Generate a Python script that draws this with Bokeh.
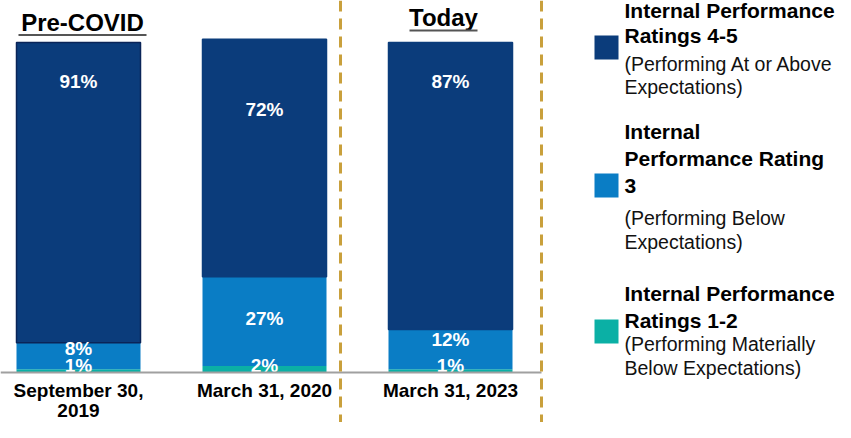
import numpy as np
from bokeh.plotting import figure
from bokeh.models import Range1d, Span
from bokeh.core.properties import value
from bokeh.embed import file_html
from bokeh.resources import INLINE

# ---------------- data ----------------
periods = ["September 30,\n2019", "March 31, 2020", "March 31, 2023"]
period_headers = ["Pre-COVID", "", "Today"]
ratings_4_5 = [91, 72, 87]
rating_3 = [8, 27, 12]
ratings_1_2 = [1, 2, 1]

legend_titles = ["Internal Performance\nRatings 4-5",
                 "Internal\nPerformance Rating\n3",
                 "Internal Performance\nRatings 1-2"]
legend_notes = ["(Performing At or Above\nExpectations)",
                "(Performing Below\nExpectations)",
                "(Performing Materially\nBelow Expectations)"]

# ---------------- style ----------------
NAVY = "#0B3C7B"
MID = "#0A7DC5"
TEAL = "#0BB0A5"
GOLD = "#C9A03C"
GRAY = "#A0A0A0"
FB = "Liberation Sans"

W, H = 835, 422
PX = 186.0          # pixels per category step
PY = 3.3            # pixels per percent
X0 = -78 / PX
Y_BASE = 372        # pixel y of the zero line
KB = 0.4            # baseline correction (em)


def X(px):
    return X0 + px / PX


def Y(py):
    return (Y_BASE - py) / PY


def TB(py, fs):
    """data y for a text whose visual baseline should sit at pixel py"""
    return Y(py - KB * fs)


p = figure(width=W, height=H, output_backend="svg", toolbar_location=None,
           x_range=Range1d(X0, X0 + W / PX),
           y_range=Range1d(Y(H), Y(0)),
           x_axis_type=None, y_axis_type=None, min_border=0)
p.grid.visible = False
p.outline_line_color = None

xs = np.arange(len(periods))
s12 = np.array(ratings_1_2, dtype=float)
s3 = np.array(rating_3, dtype=float)
s45 = np.array(ratings_4_5, dtype=float)
b45 = s12 + s3
top45 = b45 + s45

BW = 124 / PX
p.vbar(x=xs, bottom=0, top=s12, width=BW, fill_color=TEAL, line_color=None)
p.vbar(x=xs, bottom=s12, top=b45, width=BW, fill_color=MID, line_color=None)
outline = [NAVY] * len(xs)
outline[0] = "#0A2458"
p.vbar(x=xs, bottom=b45, top=top45, width=BW, fill_color=NAVY,
       line_color=outline, line_width=1.5)

# value labels: visual baselines in pixels
FS_V = 19
lab_45 = [88.3, 117, 89]
lab_3 = [355.7, 325.7, 346.7]
lab_12 = [373, 373, 373]
lx = list(xs) * 3
ly = [TB(v, FS_V) for v in lab_45 + lab_3 + lab_12]
lt = [f"{v}%" for v in ratings_4_5 + rating_3 + ratings_1_2]
p.text(x=lx, y=ly, text=lt, text_color="white", text_align="center",
       text_baseline="alphabetic", text_font=value(FB),
       text_font_style="bold", text_font_size=f"{FS_V}px")

# zero line
p.segment(x0=[X(0)], y0=[0], x1=[X(541)], y1=[0], line_color=GRAY, line_width=2)

# dashed separators
for loc in (X(340), X(541)):
    p.add_layout(Span(location=loc, dimension="height", line_color=GOLD,
                      line_width=3, line_dash="11 7"))

# category labels
FS_C = 19
cx, cy, ct = [], [], []
for i, lab in enumerate(periods):
    for j, line in enumerate(lab.split("\n")):
        cx.append(xs[i])
        cy.append(TB(398 + 20 * j, FS_C))
        ct.append(line)
p.text(x=cx, y=cy, text=ct, text_color="black", text_align="center",
       text_baseline="alphabetic", text_font=value(FB),
       text_font_style="bold", text_font_size=f"{FS_C}px")

# headers with underline
FS_H = 24
hdr_pos = {0: (82, 31.5, 18, 146, 34.5), 2: (443, 26.5, 409, 477, 30)}
for i, (hx, hy, u0, u1, uy) in hdr_pos.items():
    p.text(x=[X(hx)], y=[TB(hy, FS_H)], text=[period_headers[i]],
           text_color="black", text_align="center", text_baseline="alphabetic",
           text_font=value(FB), text_font_style="bold",
           text_font_size=f"{FS_H}px")
    p.segment(x0=[X(u0)], y0=[Y(uy)], x1=[X(u1)], y1=[Y(uy)],
              line_color="#555555", line_width=2)

# legend
colors = [NAVY, MID, TEAL]
sq_top = [35, 173, 319]
title_base = [[18.5, 43.5], [139.3, 166.7, 194], [301.7, 328.3]]
note_base = [[71, 94.3], [225, 249], [351.7, 375]]
TX = 624
FS_LT, FS_LN = 21, 19.5
for k in range(3):
    p.quad(left=[X(594)], right=[X(618)], top=[Y(sq_top[k])],
           bottom=[Y(sq_top[k] + 24)], fill_color=colors[k], line_color=None)
    tl = legend_titles[k].split("\n")
    p.text(x=[X(TX)] * len(tl), y=[TB(b, FS_LT) for b in title_base[k]],
           text=tl, text_color="black", text_align="left",
           text_baseline="alphabetic", text_font=value(FB),
           text_font_style="bold", text_font_size=f"{FS_LT}px")
    nl = legend_notes[k].split("\n")
    p.text(x=[X(TX)] * len(nl), y=[TB(b, FS_LN) for b in note_base[k]],
           text=nl, text_color="#111111", text_align="left",
           text_baseline="alphabetic", text_font=value(FB),
           text_font_size=f"{FS_LN}px")

open("out.html", "w").write(file_html(p, INLINE))
